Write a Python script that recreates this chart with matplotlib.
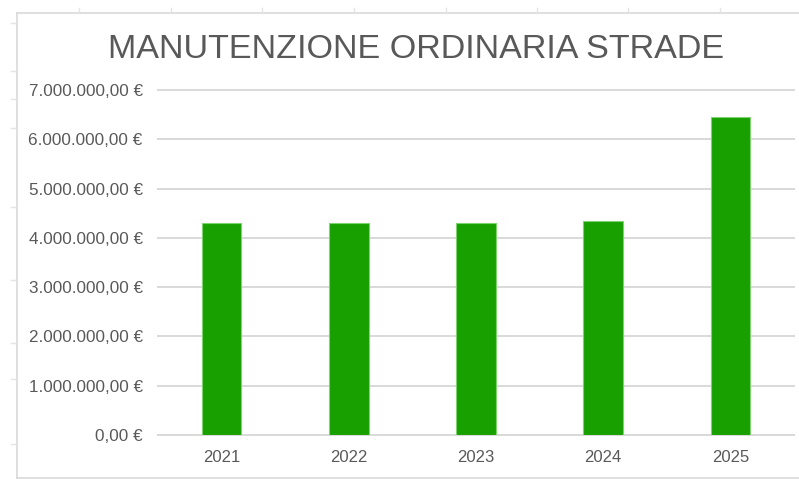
import matplotlib
matplotlib.use("Agg")
import matplotlib.pyplot as plt
from matplotlib.lines import Line2D
from matplotlib.ticker import FuncFormatter

years = ["2021", "2022", "2023", "2024", "2025"]
values = [4300000, 4300000, 4300000, 4340000, 6450000]
yticks = [0, 1000000, 2000000, 3000000, 4000000, 5000000, 6000000, 7000000]
title = "MANUTENZIONE ORDINARIA STRADE"

W, H = 799, 479
plt.rcParams['font.family'] = ['Liberation Sans', 'DejaVu Sans']
fig = plt.figure(figsize=(W / 100, H / 100), dpi=100)
fig.patch.set_facecolor("white")

def fx(px):
    return px / W

def fy(py):
    return 1 - py / H

border = "#D9D9D9"
# chart frame
fig.add_artist(Line2D([fx(17), 1], [fy(13), fy(13)], color=border, lw=1.2))
fig.add_artist(Line2D([fx(17), fx(17)], [fy(13), fy(478)], color=border, lw=1.2))
fig.add_artist(Line2D([fx(17), 1], [fy(478), fy(478)], color=border, lw=1.2))
# spreadsheet cell ticks outside the chart
for x in [79, 171, 262, 354, 446, 537, 628, 720]:
    fig.add_artist(Line2D([fx(x), fx(x)], [fy(8), fy(13)], color="#E4E4E4", lw=1))
for y in [23, 71, 99, 128, 207, 280, 343, 379, 444]:
    fig.add_artist(Line2D([fx(11), fx(17)], [fy(y), fy(y)], color="#E4E4E4", lw=1))

ax = fig.add_axes([fx(158), fy(435), fx(794) - fx(158), fy(90) - fy(435)])
ax.set_facecolor("white")
x = list(range(len(years)))
ax.bar(x, values, width=0.31, color="#17A000", edgecolor="#7FD36E", linewidth=0.8, zorder=3)
ax.set_xlim(-0.5, len(years) - 0.5)
ax.set_ylim(0, 7000000)
ax.set_yticks(yticks)
for v in yticks:
    ax.axhline(v, color="#D9D9D9", lw=1.4, zorder=1, clip_on=False)
ax.set_xticks(x)
ax.set_xticklabels(years)

def eur(v, pos=None):
    s = f"{v:,.2f}".replace(",", "X").replace(".", ",").replace("X", ".")
    return s + " €"

ax.yaxis.set_major_formatter(FuncFormatter(eur))
ax.tick_params(axis="both", length=0, colors="#595959")
ax.tick_params(axis="y", pad=11, labelsize=12.3)
ax.tick_params(axis="x", pad=11, labelsize=12)
for s in ax.spines.values():
    s.set_visible(False)

fig.text(fx(416), fy(49), title, ha="center", va="center", fontsize=24.6, color="#595959")

fig.savefig("out.png", dpi=100, facecolor="white")
